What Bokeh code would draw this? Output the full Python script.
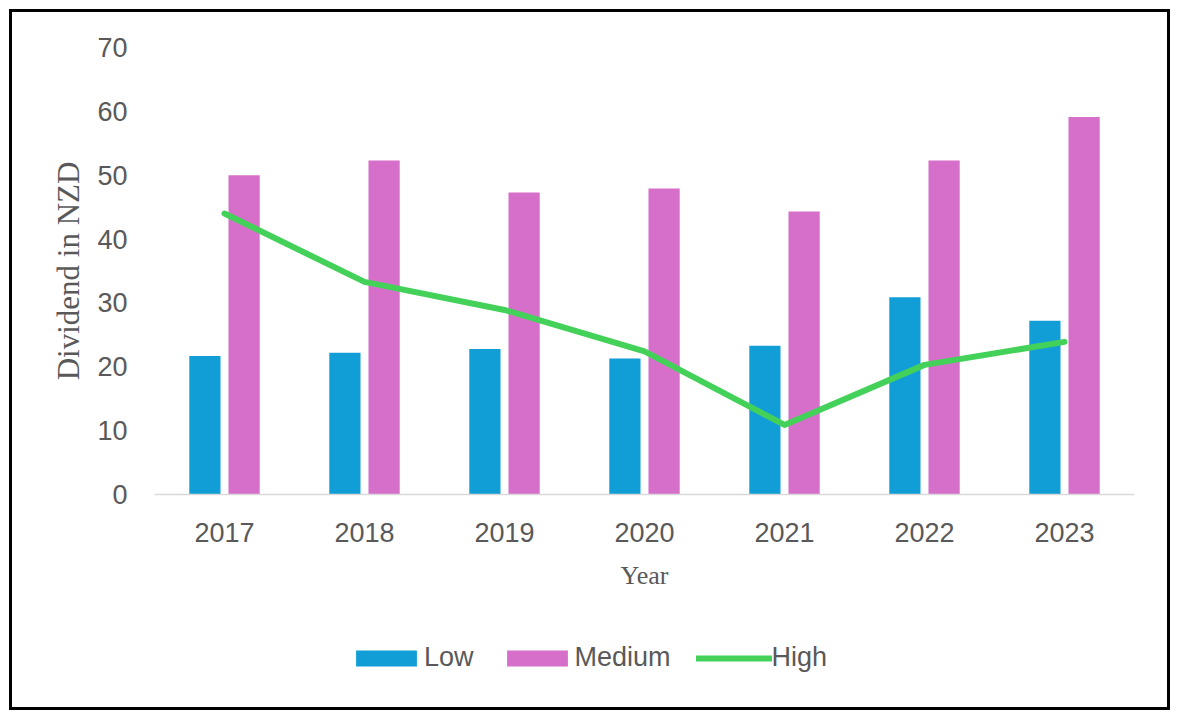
from bokeh.plotting import figure
from bokeh.models import ColumnDataSource, FactorRange, Range1d, Legend, LegendItem
from bokeh.layouts import column
from bokeh.transform import dodge
from bokeh.embed import file_html
from bokeh.resources import INLINE

years = ["2017", "2018", "2019", "2020", "2021", "2022", "2023"]
low = [21.7, 22.2, 22.8, 21.3, 23.3, 30.9, 27.2]
medium = [50.0, 52.3, 47.3, 47.9, 44.3, 52.3, 59.1]
high = [44.0, 33.3, 28.9, 22.4, 10.9, 20.3, 23.9]
series_names = ["Low", "Medium", "High"]

y_ticks = [0, 10, 20, 30, 40, 50, 60, 70]

blue = "#119ED6"
pink = "#D66FCA"
green = "#44D15A"
tick_color = "#595959"
frame_border = "3px solid black"

src = ColumnDataSource(dict(years=years, low=low, medium=medium, high=high))

p = figure(
    width=1161, height=601,
    x_range=FactorRange(*years, range_padding=0),
    y_range=Range1d(0, 70),
    output_backend="svg", toolbar_location=None,
    min_border_left=142, min_border_right=39,
    min_border_top=35, min_border_bottom=119,
)
p.styles = {"border": frame_border, "border-bottom": "none"}
p.outline_line_color = None
p.xgrid.grid_line_color = None
p.ygrid.grid_line_color = None
p.background_fill_color = "white"
p.border_fill_color = "white"

p.vbar(x=dodge("years", -0.14, range=p.x_range), top="low", width=0.223,
       bottom=0, source=src, fill_color=blue, line_color=None)
p.vbar(x=dodge("years", 0.14, range=p.x_range), top="medium", width=0.223,
       bottom=0, source=src, fill_color=pink, line_color=None)
p.line(x="years", y="high", source=src, line_color=green, line_width=6,
       line_cap="round", line_join="round")

xa = p.xaxis[0]
xa.axis_line_color = "#D9D9D9"
xa.axis_line_width = 1.5
xa.major_tick_line_color = None
xa.minor_tick_line_color = None
xa.major_label_text_font = "Liberation Sans"
xa.major_label_text_font_size = "27px"
xa.major_label_text_color = tick_color
xa.major_label_standoff = 22
xa.axis_label = "Year"
xa.axis_label_text_font = "Liberation Serif"
xa.axis_label_text_font_style = "normal"
xa.axis_label_text_font_size = "26px"
xa.axis_label_text_color = tick_color
xa.axis_label_standoff = 16

ya = p.yaxis[0]
ya.ticker = y_ticks
ya.axis_line_color = None
ya.major_tick_line_color = None
ya.minor_tick_line_color = None
ya.major_label_text_font = "Liberation Sans"
ya.major_label_text_font_size = "27px"
ya.major_label_text_color = tick_color
ya.major_label_standoff = 21
ya.axis_label = "Dividend in NZD"
ya.axis_label_text_font = "Liberation Serif"
ya.axis_label_text_font_style = "normal"
ya.axis_label_text_font_size = "31px"
ya.axis_label_text_color = tick_color
ya.axis_label_standoff = 8

# legend strip: same series styles; the key renderers are hidden, only the key shows
q = figure(
    width=1161, height=100,
    x_range=FactorRange(*years, range_padding=0), y_range=Range1d(0, 70),
    x_axis_location=None, y_axis_location=None,
    output_backend="svg", toolbar_location=None, min_border=0,
)
q.styles = {"border": frame_border, "border-top": "none"}
q.outline_line_color = None
q.grid.visible = False
q.background_fill_color = "white"
q.border_fill_color = "white"

key_src = ColumnDataSource(dict(years=years[:1], low=low[:1], medium=medium[:1], high=high[:1]))
l_low = q.vbar(x="years", top="low", bottom=0, width=0.223, source=key_src,
               fill_color=blue, line_color=None, visible=False)
l_med = q.vbar(x="years", top="medium", bottom=0, width=0.223, source=key_src,
               fill_color=pink, line_color=None, visible=False)
l_high = q.line(x="years", y="high", source=key_src, line_color=green, line_width=6,
                line_cap="round", visible=False)

legend = Legend(
    items=[LegendItem(label=series_names[0], renderers=[l_low]),
           LegendItem(label=series_names[1], renderers=[l_med]),
           LegendItem(label=series_names[2], renderers=[l_high])],
    orientation="horizontal",
    location=(194, 37),
    glyph_width=76, glyph_height=20,
    label_standoff=0, spacing=25,
    padding=0, margin=0,
    border_line_color=None, background_fill_alpha=0,
    inactive_fill_alpha=0,
    label_text_font="Liberation Sans", label_text_font_size="27px",
    label_text_color=tick_color,
)
q.add_layout(legend)

layout = column(p, q, spacing=0)
layout.styles = {"position": "relative", "left": "9px", "top": "9px"}

open("out.html", "w").write(file_html(layout, INLINE))
